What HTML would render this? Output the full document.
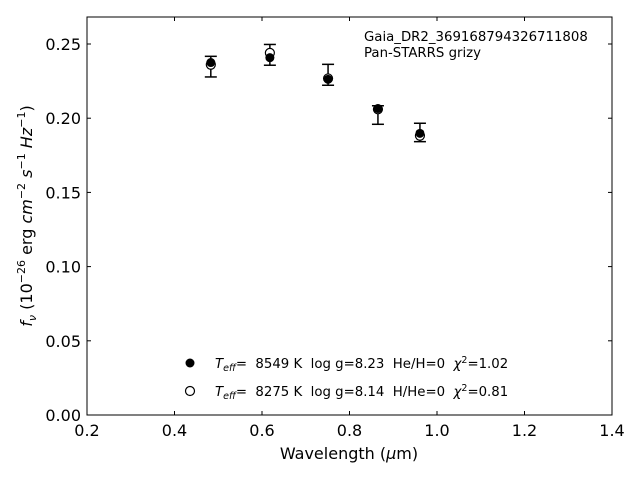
<!DOCTYPE html>
<html><head><meta charset="utf-8"><style>body{margin:0;background:#fff}svg{display:block;font-family:"DejaVu Sans","Liberation Sans",sans-serif}text{white-space:pre}</style></head>
<body>
<svg id="chart" width="640" height="480" xml:space="preserve">
<rect x="87" y="17" width="525" height="398" fill="none" stroke="#000" stroke-width="1"/>
<g id="axes"></g><g id="marks"></g>
<text x="364" y="41" font-size="13.3">Gaia_DR2_369168794326711808</text>
<text x="364" y="57" font-size="13.3">Pan-STARRS grizy</text>
<text x="349" y="459" font-size="16" text-anchor="middle">Wavelength (<tspan font-style="italic">μ</tspan>m)</text>
<text transform="translate(32,216) rotate(-90)" font-size="16" text-anchor="middle"><tspan font-style="italic">f</tspan><tspan font-style="italic" font-size="11" dy="4">ν</tspan><tspan dy="-4"> (10</tspan><tspan font-size="11" dy="-7">−26</tspan><tspan dy="7"> erg </tspan><tspan font-style="italic">cm</tspan><tspan font-size="11" dy="-7">−2</tspan><tspan dy="7"> </tspan><tspan font-style="italic">s</tspan><tspan font-size="11" dy="-7">−1</tspan><tspan dy="7"> </tspan><tspan font-style="italic">Hz</tspan><tspan font-size="11" dy="-7">−1</tspan><tspan dy="7">)</tspan></text>
<g>
<circle cx="190" cy="363" r="4.5" fill="#000"/>
<text x="215" y="368" font-size="13.3"><tspan font-style="italic">T</tspan><tspan font-style="italic" font-size="9.5" dy="3">eff</tspan><tspan dy="-3">=  8549 K  log g=8.23  He/H=0  </tspan><tspan font-style="italic">χ</tspan><tspan font-size="9.5" dy="-5">2</tspan><tspan dy="5">=1.02</tspan></text>
<circle cx="190" cy="391" r="4.5" fill="#fff" stroke="#000" stroke-width="1.2"/>
<text x="215" y="396" font-size="13.3"><tspan font-style="italic">T</tspan><tspan font-style="italic" font-size="9.5" dy="3">eff</tspan><tspan dy="-3">=  8275 K  log g=8.14  H/He=0  </tspan><tspan font-style="italic">χ</tspan><tspan font-size="9.5" dy="-5">2</tspan><tspan dy="5">=0.81</tspan></text>
</g>
</svg>
<script>
const wavelengths=[0.483,0.618,0.751,0.865,0.961];
const obsLow=[0.2278,0.2357,0.2222,0.1959,0.1842];
const obsHigh=[0.2417,0.2497,0.2363,0.2084,0.1966];
const modelHe=[0.2375,0.2408,0.2262,0.2065,0.1898];
const modelH=[0.2360,0.2440,0.2268,0.2060,0.1882];
const xTicks=[0.2,0.4,0.6,0.8,1.0,1.2,1.4];
const yTicks=[0,0.05,0.10,0.15,0.20,0.25];
const NS='http://www.w3.org/2000/svg';
const X0=87,X1=612,Y0=415,Y1=17,XMIN=0.2,XMAX=1.4,YMIN=0,YMAX=0.2682;
const sx=v=>X0+(v-XMIN)/(XMAX-XMIN)*(X1-X0);
const sy=v=>Y0-(v-YMIN)/(YMAX-YMIN)*(Y0-Y1);
function mk(tag,attrs,parent){const e=document.createElementNS(NS,tag);for(const k in attrs)e.setAttribute(k,attrs[k]);parent.appendChild(e);return e;}
const ax=document.getElementById('axes'),mg=document.getElementById('marks');
xTicks.forEach(t=>{const x=sx(t);
const l=mk('line',{x1:x,x2:x,y1:Y0,y2:Y0-4,stroke:'#000'},ax);


const l2=mk('line',{x1:x,x2:x,y1:Y1,y2:Y1+4,stroke:'#000'},ax);


const tx=mk('text',{x:x,y:Y0+21,'font-size':16,'text-anchor':'middle'},ax);tx.textContent=t.toFixed(1);

});
yTicks.forEach(t=>{const y=sy(t);
const l=mk('line',{x1:X0,x2:X0+4,y1:y,y2:y,stroke:'#000'},ax);


const l2=mk('line',{x1:X1,x2:X1-4,y1:y,y2:y,stroke:'#000'},ax);


const tx=mk('text',{x:X0-6,y:y+6,'font-size':16,'text-anchor':'end'},ax);tx.textContent=t.toFixed(2);

});
wavelengths.forEach((w,i)=>{const x=sx(w),a=sy(obsLow[i]),b=sy(obsHigh[i]);
const g=mk('g',{stroke:'#000','stroke-width':1.5},mg);


mk('line',{x1:x,x2:x,y1:a,y2:b},g);mk('line',{x1:x-6,x2:x+6,y1:a,y2:a},g);mk('line',{x1:x-6,x2:x+6,y1:b,y2:b},g);
const o=mk('circle',{cx:x,cy:sy(modelH[i]),r:4.5,fill:'#fff',stroke:'#000','stroke-width':1.2},mg);


const f=mk('circle',{cx:x,cy:sy(modelHe[i]),r:4.5,fill:'#000'},mg);

});
</script>
</body></html>
